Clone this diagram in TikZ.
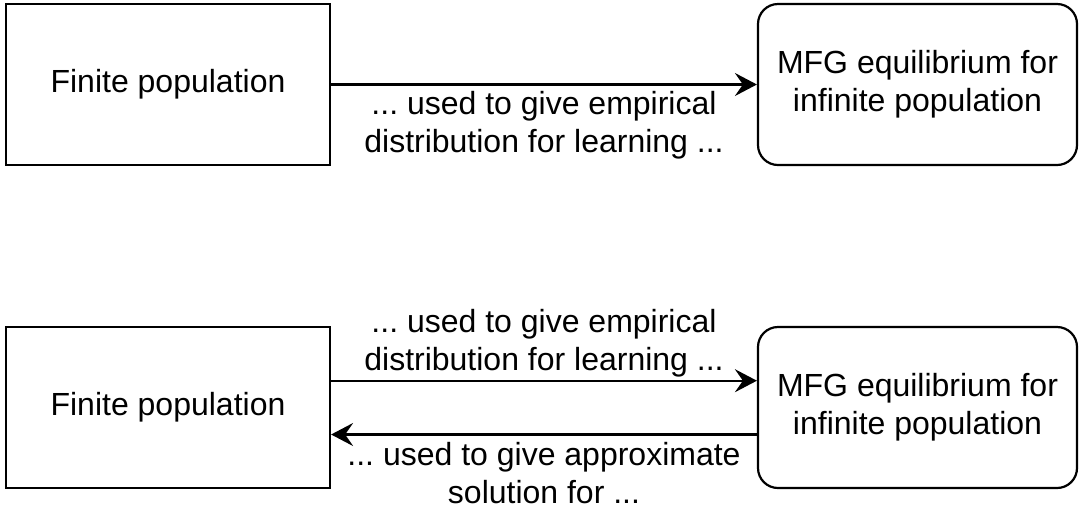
\documentclass[tikz,border=0pt]{standalone}
\usepackage{fontspec}
\setmainfont{Liberation Sans}
\usetikzlibrary{arrows.meta}
\frenchspacing

\begin{document}
\begin{tikzpicture}[x=0.5pt,y=-0.5pt,
  popbox/.style={draw,line width=1.1pt,minimum width=162pt,minimum height=80.5pt,inner sep=0pt,
    font=\fontsize{16}{19}\selectfont,align=center},
  mfgbox/.style={popbox,minimum width=159.5pt,rounded corners=10pt},
  flow/.style={line width=1.1pt,-{Stealth[length=11pt,width=11.5pt,inset=4pt]}},
  lbl/.style={font=\fontsize{16}{19}\selectfont,align=center,inner sep=0pt}]
\useasboundingbox (0,0) rectangle (1079,510);

\node [popbox] (fin1) at (168,84.5) {Finite population};
\node [mfgbox] (mfg1) at (917.5,84.5) {MFG equilibrium for\\infinite population};
\draw [flow] (fin1) -- (mfg1)
  node [lbl,midway,yshift=-20.5pt] (emp1) {... used to give empirical\\distribution for learning ...};

\node [popbox] (fin2) at (168,407.5) {Finite population};
\node [mfgbox] (mfg2) at (917.5,407.5) {MFG equilibrium for\\infinite population};
\draw [flow] ([yshift=13.4pt]fin2.east) -- ([yshift=13.4pt]fin2.east -| mfg2.west)
  node [lbl,midway,yshift=18.8pt] (emp2) {... used to give empirical\\distribution for learning ...};
\draw [flow] ([yshift=-13.5pt]fin2.east -| mfg2.west) -- ([yshift=-13.5pt]fin2.east)
  node [lbl,midway,yshift=-19.5pt] (appr) {... used to give approximate\\solution for ...};
\end{tikzpicture}
\end{document}
